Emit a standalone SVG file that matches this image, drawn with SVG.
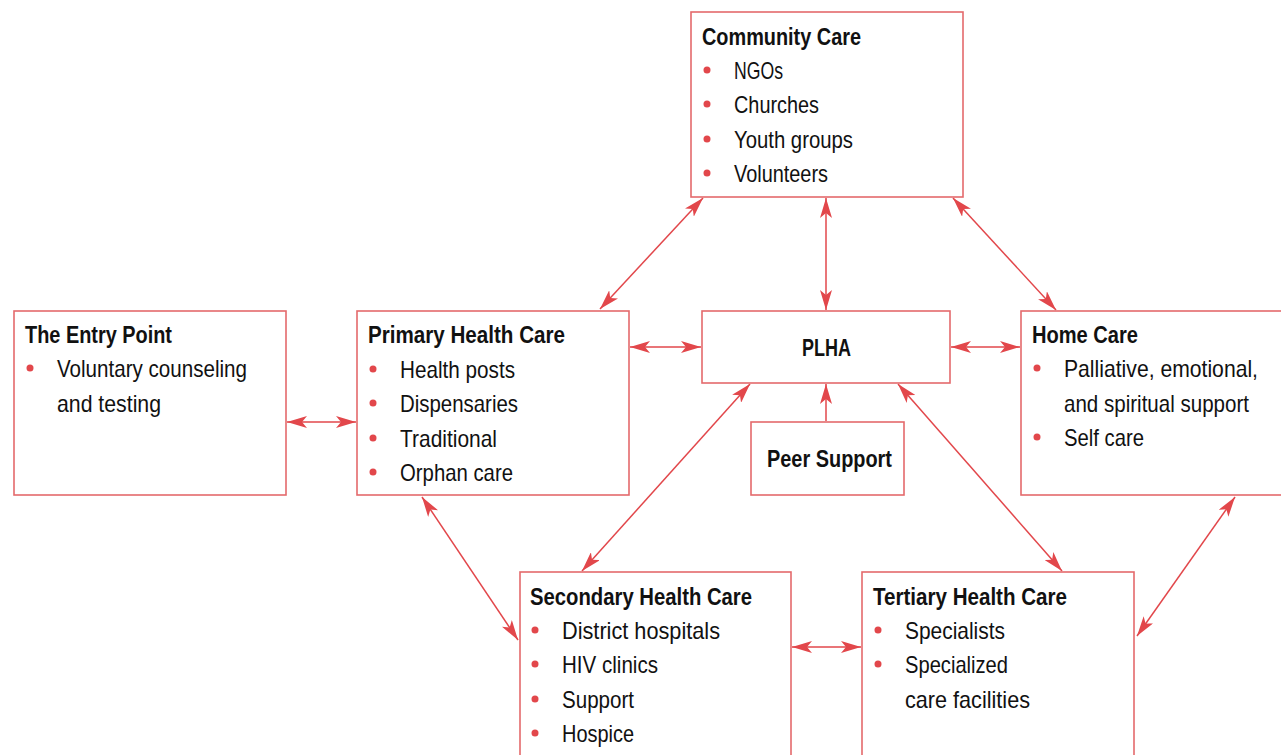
<svg xmlns="http://www.w3.org/2000/svg" width="1281" height="755" viewBox="0 0 1281 755">
<defs>
<style>
.box{fill:#fff;stroke:#e46a6c;stroke-width:1.6}
.t{font-family:"Liberation Sans",Arial,sans-serif;font-size:24px;fill:#111;font-weight:bold}
.i{font-family:"Liberation Sans",Arial,sans-serif;font-size:24px;fill:#111}
.b{fill:#e2474b}
.c{stroke:#e2474b;stroke-width:1.5;fill:none;marker-end:url(#ah)}
.d{marker-start:url(#ah)}
</style>
<marker id="ah" markerUnits="userSpaceOnUse" markerWidth="20" markerHeight="12" refX="20" refY="6" orient="auto-start-reverse" viewBox="0 0 20 12">
<path d="M0,0 L20,6 L0,12 L5,6 Z" fill="#e2474b"/>
</marker>
</defs>
<rect width="1281" height="755" fill="#fff"/>

<g id="connectors">
<line class="c d" x1="600" y1="309" x2="703" y2="198"/>
<line class="c d" x1="826" y1="198" x2="826" y2="310"/>
<line class="c d" x1="953" y1="198" x2="1056" y2="310"/>
<line class="c d" x1="287" y1="422" x2="356" y2="422"/>
<line class="c d" x1="630" y1="347" x2="701" y2="347"/>
<line class="c d" x1="951" y1="347" x2="1020" y2="347"/>
<line class="c" x1="826" y1="421" x2="826" y2="384"/>
<line class="c d" x1="750" y1="384" x2="582" y2="571"/>
<line class="c d" x1="898" y1="384" x2="1062" y2="571"/>
<line class="c d" x1="422" y1="497" x2="518" y2="640"/>
<line class="c d" x1="792" y1="647" x2="861" y2="647"/>
<line class="c d" x1="1235" y1="497" x2="1137" y2="636"/>
</g>

<g id="community-care">
<rect class="box" x="691" y="12" width="272" height="185"/>
<text class="t" x="702" y="45" textLength="159" lengthAdjust="spacingAndGlyphs">Community Care</text>
<circle class="b" cx="707" cy="70" r="3.5"/><text class="i" x="734" y="79" textLength="49" lengthAdjust="spacingAndGlyphs">NGOs</text>
<circle class="b" cx="707" cy="104" r="3.5"/><text class="i" x="734" y="113" textLength="85" lengthAdjust="spacingAndGlyphs">Churches</text>
<circle class="b" cx="707" cy="139" r="3.5"/><text class="i" x="734" y="148" textLength="119" lengthAdjust="spacingAndGlyphs">Youth groups</text>
<circle class="b" cx="707" cy="173" r="3.5"/><text class="i" x="734" y="182" textLength="94" lengthAdjust="spacingAndGlyphs">Volunteers</text>
</g>

<g id="entry-point">
<rect class="box" x="14" y="311" width="272" height="184"/>
<text class="t" x="25" y="343" textLength="147" lengthAdjust="spacingAndGlyphs">The Entry Point</text>
<circle class="b" cx="30" cy="368" r="3.5"/><text class="i" x="57" y="377" textLength="190" lengthAdjust="spacingAndGlyphs">Voluntary counseling</text>
<text class="i" x="57" y="412" textLength="104" lengthAdjust="spacingAndGlyphs">and testing</text>
</g>

<g id="primary-health-care">
<rect class="box" x="357" y="311" width="272" height="184"/>
<text class="t" x="368" y="343" textLength="197" lengthAdjust="spacingAndGlyphs">Primary Health Care</text>
<circle class="b" cx="373" cy="369" r="3.5"/><text class="i" x="400" y="378" textLength="115" lengthAdjust="spacingAndGlyphs">Health posts</text>
<circle class="b" cx="373" cy="403" r="3.5"/><text class="i" x="400" y="412" textLength="118" lengthAdjust="spacingAndGlyphs">Dispensaries</text>
<circle class="b" cx="373" cy="438" r="3.5"/><text class="i" x="400" y="447" textLength="97" lengthAdjust="spacingAndGlyphs">Traditional</text>
<circle class="b" cx="373" cy="472" r="3.5"/><text class="i" x="400" y="481" textLength="113" lengthAdjust="spacingAndGlyphs">Orphan care</text>
</g>

<g id="plha">
<rect class="box" x="702" y="311" width="248" height="72"/>
<text class="t" x="802" y="356" textLength="49" lengthAdjust="spacingAndGlyphs">PLHA</text>
</g>

<g id="peer-support">
<rect class="box" x="751" y="422" width="153" height="73"/>
<text class="t" x="767" y="467" textLength="125" lengthAdjust="spacingAndGlyphs">Peer Support</text>
</g>

<g id="home-care">
<rect class="box" x="1021" y="311" width="270" height="184"/>
<text class="t" x="1032" y="343" textLength="106" lengthAdjust="spacingAndGlyphs">Home Care</text>
<circle class="b" cx="1037" cy="368" r="3.5"/><text class="i" x="1064" y="377" textLength="194" lengthAdjust="spacingAndGlyphs">Palliative, emotional,</text>
<text class="i" x="1064" y="412" textLength="185" lengthAdjust="spacingAndGlyphs">and spiritual support</text>
<circle class="b" cx="1037" cy="437" r="3.5"/><text class="i" x="1064" y="446" textLength="80" lengthAdjust="spacingAndGlyphs">Self care</text>
</g>

<g id="secondary-health-care">
<rect class="box" x="520" y="572" width="271" height="200"/>
<text class="t" x="530" y="605" textLength="222" lengthAdjust="spacingAndGlyphs">Secondary Health Care</text>
<circle class="b" cx="535" cy="630" r="3.5"/><text class="i" x="562" y="639" textLength="158" lengthAdjust="spacingAndGlyphs">District hospitals</text>
<circle class="b" cx="535" cy="664" r="3.5"/><text class="i" x="562" y="673" textLength="96" lengthAdjust="spacingAndGlyphs">HIV clinics</text>
<circle class="b" cx="535" cy="699" r="3.5"/><text class="i" x="562" y="708" textLength="72" lengthAdjust="spacingAndGlyphs">Support</text>
<circle class="b" cx="535" cy="733" r="3.5"/><text class="i" x="562" y="742" textLength="72" lengthAdjust="spacingAndGlyphs">Hospice</text>
</g>

<g id="tertiary-health-care">
<rect class="box" x="862" y="572" width="272" height="200"/>
<text class="t" x="873" y="605" textLength="194" lengthAdjust="spacingAndGlyphs">Tertiary Health Care</text>
<circle class="b" cx="878" cy="630" r="3.5"/><text class="i" x="905" y="639" textLength="100" lengthAdjust="spacingAndGlyphs">Specialists</text>
<circle class="b" cx="878" cy="664" r="3.5"/><text class="i" x="905" y="673" textLength="103" lengthAdjust="spacingAndGlyphs">Specialized</text>
<text class="i" x="905" y="708" textLength="125" lengthAdjust="spacingAndGlyphs">care facilities</text>
</g>
</svg>
